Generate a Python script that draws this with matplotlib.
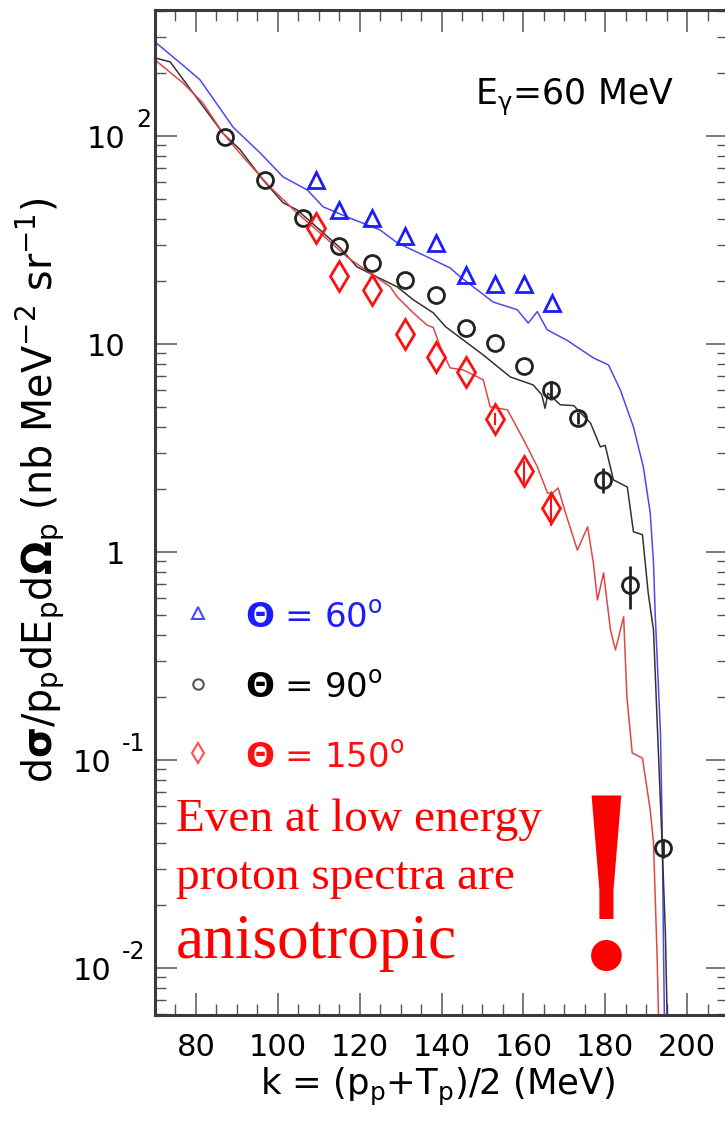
import numpy as np
import matplotlib
matplotlib.use("Agg")
import matplotlib.pyplot as plt
from matplotlib.ticker import MultipleLocator, LogLocator, NullFormatter

plt.rcParams['font.family'] = ['DejaVu Sans']
plt.rcParams['mathtext.fontset'] = 'dejavusans'

# ---- measured points (proton spectra, E_gamma = 60 MeV) ----
k60 = [109.4, 115.0, 123.1, 131.1, 138.7, 146.0, 153.1, 160.2, 167.1]
s60 = [61.4, 44.0, 40.3, 33.0, 30.6, 21.5, 19.4, 19.4, 15.7]

k90 = [87.1, 96.9, 106.2, 115.0, 123.1, 131.1, 138.7, 146.0, 153.1, 160.2,
       166.8, 173.4, 179.5, 186.1, 194.0]
s90 = [99.0, 61.4, 40.4, 29.6, 24.5, 20.3, 17.2, 11.9, 10.1, 7.84,
       6.0, 4.41, 2.22, 0.694, 0.0377]
e90 = [0, 0, 0, 0, 0, 0, 0, 0, 0, 0,
       0.6, 0.3, 0.3, 0.16, 0.004]

k150 = [109.4, 115.0, 123.1, 131.1, 138.7, 146.0, 153.1, 160.2, 166.8]
s150 = [36.1, 21.2, 18.2, 11.2, 8.66, 7.33, 4.36, 2.45, 1.63]
e150 = [0, 0, 0, 0, 0, 0, 0.3, 0.3, 0.3]

# ---- model curves ----
kt60 = [70.0, 76.8, 81.0, 89.1, 95.7, 101.3, 107.2, 111.1, 116.9, 125.0,
        129.2, 136.5, 142.1, 144.6, 152.6, 158.5, 161.2, 163.4, 165.8, 170.7,
        177.1, 180.8, 183.7, 186.9, 189.3, 191.0, 191.8, 192.2, 193.5, 193.9,
        194.2, 194.5]
st60 = [283, 219, 186, 110, 82.8, 63.5, 55.0, 45.6, 40.8, 35.3,
        30.6, 26.2, 23.2, 21.0, 15.9, 14.6, 12.6, 14.3, 11.7, 10.4,
        8.57, 7.92, 6.0, 3.99, 2.57, 1.54, 0.886, 0.509, 0.135, 0.05,
        0.0148, 0.005]

kt90 = [70.0, 73.7, 79.3, 86.6, 90.8, 96.4, 101.3, 104.7, 111.1, 115.2,
        119.3, 124.2, 129.2, 133.1, 138.0, 141.0, 144.6, 150.2, 156.8, 162.4,
        164.5, 165.3, 166.0, 169.0, 172.3, 176.4, 178.8, 180.0, 182.0, 185.4,
        186.9, 189.1, 190.5, 191.8, 192.8, 193.8, 194.7, 195.2]
st90 = [237, 227, 161, 103, 85.8, 61.4, 47.7, 44.1, 34.2, 29.0,
        23.5, 21.0, 18.8, 16.3, 14.1, 12.1, 10.7, 8.85, 6.94, 6.35,
        5.7, 4.9, 5.8, 5.10, 5.05, 4.17, 3.2, 3.25, 2.22, 2.05,
        1.25, 1.21, 0.636, 0.42, 0.135, 0.0447, 0.0148, 0.005]

kt150 = [70.0, 76.8, 81.7, 86.6, 91.5, 98.1, 104.7, 110.3, 116.9, 122.6,
         127.5, 129.2, 133.1, 136.5, 138.0, 139.7, 142.1, 145.3, 150.2, 151.9,
         156.1, 160.1, 163.4, 165.9, 167.2, 168.5, 170.3, 173.2, 175.7, 177.1,
         178.1, 179.6, 181.3, 182.5, 184.5, 185.3, 186.6, 189.1, 191.0, 191.8,
         192.7, 193.1]
st150 = [232, 180, 144, 103, 79.3, 56.9, 42.6, 34.2, 26.2, 21.9,
         18.8, 16.8, 14.1, 12.3, 12.0, 9.68, 7.67, 7.50, 6.72, 4.98,
         4.82, 3.45, 2.57, 1.92, 1.92, 2.03, 1.54, 1.02, 1.32, 0.886,
         0.587, 0.792, 0.42, 0.338, 0.488, 0.2, 0.108, 0.102, 0.0575, 0.04,
         0.011, 0.005]

legend_labels = [r'$\mathbf{\Theta}$ = 60$^{\mathregular{o}}$',
                 r'$\mathbf{\Theta}$ = 90$^{\mathregular{o}}$',
                 r'$\mathbf{\Theta}$ = 150$^{\mathregular{o}}$']

W, H = 725, 1124
fig = plt.figure(figsize=(W / 100, H / 100), dpi=100)
fig.patch.set_facecolor('white')


def fx(px):
    return px / W


def fy(py):
    return 1 - py / H


left, right, top, bottom = 155, 728, 10, 1015
ax = fig.add_axes([fx(left), fy(bottom), (right - left) / W, (bottom - top) / H])
ax.set_yscale('log')
ax.set_xlim(70, 210)
ax.set_ylim(0.00594, 403)

BLUE, BLACK, RED = '#1c1cff', '#222222', '#ff1010'

ax.plot(kt60, st60, color='#4a4af0', lw=1.1)
ax.plot(kt90, st90, color='#333333', lw=1.1)
ax.plot(kt150, st150, color='#e24646', lw=1.1)

ax.errorbar(k60, s60, fmt='^', ms=12, mfc='none', mec=BLUE, mew=2, ecolor=BLUE)
ax.errorbar(k90, s90, yerr=e90, fmt='o', ms=11.5, mfc='none', mec=BLACK, mew=2,
            ecolor=BLACK, elinewidth=2)
ax.errorbar(k150, s150, yerr=e150, fmt='d', ms=15, mfc='none', mec=RED, mew=2,
            ecolor=RED, elinewidth=1.5)

# axes frame and ticks
for sp in ax.spines.values():
    sp.set_linewidth(2.2)
    sp.set_color('#3a3a3a')
ax.xaxis.set_major_locator(MultipleLocator(20))
ax.xaxis.set_minor_locator(MultipleLocator(5))
ax.yaxis.set_major_locator(LogLocator(base=10, numticks=20))
ax.yaxis.set_minor_locator(LogLocator(base=10, subs=np.arange(2, 10), numticks=20))
ax.yaxis.set_minor_formatter(NullFormatter())
ax.tick_params(which='both', direction='in', top=True, right=True,
               colors='#555555', labelcolor='black')
ax.tick_params(which='major', length=15.8, width=1.1, labelsize=22, pad=13)
ax.tick_params(which='minor', length=8, width=1.0)
ax.tick_params(axis='y', which='both', labelleft=False)

# decade labels on the log axis
ytr = ax.get_yaxis_transform()
for val, exp in [(100, '2'), (10, None), (1, None), (0.1, '-1'), (0.01, '-2')]:
    if exp is None:
        base = '10' if val == 10 else '1'
        ax.annotate(base, xy=(0, val), xycoords=ytr, xytext=(-30, -4),
                    textcoords='offset pixels', ha='right', va='center',
                    fontsize=22)
    else:
        xr = -30 if exp == '2' else -44
        ax.annotate('10', xy=(0, val), xycoords=ytr, xytext=(xr, -4),
                    textcoords='offset pixels', ha='right', va='center',
                    fontsize=22)
        ax.annotate(exp, xy=(0, val), xycoords=ytr, xytext=(xr + 11, 16),
                    textcoords='offset pixels', ha='left', va='center',
                    fontsize=17)

# axis titles
fig.text(fx(438), fy(1095), r'k = (p$_{\mathregular{p}}$+T$_{\mathregular{p}}$)/2 (MeV)',
         ha='center', va='baseline', fontsize=25.5)
fig.text(fx(40), fy(490),
         r'd$\mathbf{\sigma}$/p$_{\mathregular{p}}$dE$_{\mathregular{p}}$d$\mathbf{\Omega}$$_{\mathregular{p}}$'
         r' (nb MeV$^{\mathregular{-2}}$ sr$^{\mathregular{-1}}$)',
         rotation=90, ha='center', va='center', fontsize=28.5)

fig.text(fx(475), fy(105), r'E$_{\mathregular{\gamma}}$=60 MeV', ha='left',
         va='baseline', fontsize=25)

# legend block
key_styles = [('^', '#4848ff', 8), ('o', '#555555', 7.5), ('d', '#ff5050', 10)]
key_y = [613, 684, 753]
text_base = [627, 697, 767]
text_cols = [BLUE, 'black', RED]
for (m, c, s), yk, yb, lab, tc in zip(key_styles, key_y, text_base, legend_labels, text_cols):
    ax.plot([(198 - left) / (right - left)], [(bottom - yk) / (bottom - top)],
            marker=m, ms=s, mfc='none', mec=c, mew=1.5, transform=ax.transAxes,
            clip_on=False)
    fig.text(fx(245), fy(yb), lab, color=tc, fontsize=24.5, ha='left', va='baseline')

# comment in red serif
serif = ['Liberation Serif', 'DejaVu Serif']
fig.text(fx(176), fy(831), 'Even at low energy', color='#ff0000',
         family=serif, fontsize=34, ha='left', va='baseline')
fig.text(fx(176), fy(889), 'proton spectra are', color='#ff0000',
         family=serif, fontsize=34, ha='left', va='baseline')
fig.text(fx(176), fy(958), 'anisotropic', color='#ff0000',
         family=serif, fontsize=45.5, ha='left', va='baseline')
fig.text(fx(606), fy(968), '!', color='#ff0000', family=['DejaVu Serif'],
         fontsize=170, ha='center', va='baseline')

fig.savefig('out.png', dpi=100)
